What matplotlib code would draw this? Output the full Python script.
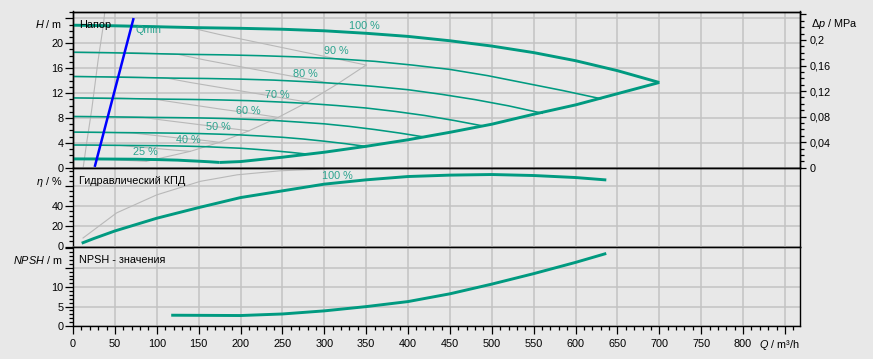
import matplotlib
matplotlib.use("Agg")
import matplotlib.pyplot as plt
from matplotlib.ticker import MultipleLocator

plt.rcParams['font.family'] = ['Liberation Sans', 'DejaVu Sans']
plt.rcParams['mathtext.fontset'] = 'custom'
plt.rcParams['mathtext.rm'] = 'Liberation Sans'
plt.rcParams['mathtext.it'] = 'Liberation Sans:italic'
plt.rcParams['mathtext.bf'] = 'Liberation Sans:bold'

# ---------------- data ----------------
# Head curves (Q in m3/h, H in m) for speed levels
q100 = [0, 50, 100, 150, 200, 250, 300, 350, 400, 450, 500, 550, 600, 650, 700]
h100 = [22.9, 22.8, 22.65, 22.5, 22.4, 22.25, 22.0, 21.6, 21.1, 20.4, 19.55, 18.5, 17.2, 15.6, 13.7]
q90 = [0, 45, 90, 135, 180, 225, 270, 315, 360, 405, 450, 495, 540, 585, 630]
h90 = [18.55, 18.47, 18.35, 18.22, 18.14, 18.0, 17.8, 17.5, 17.1, 16.5, 15.8, 14.8, 13.6, 12.4, 11.1]
q80 = [0, 40, 80, 120, 160, 200, 240, 280, 320, 360, 400, 440, 480, 520, 560]
h80 = [14.66, 14.59, 14.5, 14.4, 14.34, 14.24, 14.08, 13.82, 13.5, 13.06, 12.54, 11.8, 10.95, 9.95, 8.77]
q70 = [0, 35, 70, 105, 140, 175, 210, 245, 280, 315, 350, 385, 420, 455, 490]
h70 = [11.22, 11.17, 11.1, 11.03, 10.98, 10.9, 10.78, 10.58, 10.34, 10.0, 9.6, 9.05, 8.4, 7.6, 6.71]
q60 = [0, 30, 60, 90, 120, 150, 180, 210, 240, 270, 300, 330, 360, 390, 420]
h60 = [8.24, 8.21, 8.15, 8.1, 8.06, 8.01, 7.92, 7.78, 7.6, 7.34, 7.06, 6.65, 6.15, 5.58, 4.93]
q50 = [0, 25, 50, 75, 100, 125, 150, 175, 200, 225, 250, 275, 300, 325, 350]
h50 = [5.73, 5.7, 5.66, 5.63, 5.6, 5.56, 5.5, 5.4, 5.28, 5.1, 4.9, 4.62, 4.27, 3.88, 3.43]
q40 = [0, 20, 40, 60, 80, 100, 120, 140, 160, 180, 200, 220, 240, 260, 280]
h40 = [3.66, 3.65, 3.62, 3.6, 3.58, 3.56, 3.52, 3.46, 3.38, 3.26, 3.14, 2.95, 2.73, 2.48, 2.19]
q25 = [0, 25, 50, 75, 100, 125, 137.5, 150, 162.5, 175]
h25 = [1.43, 1.42, 1.4, 1.38, 1.32, 1.23, 1.14, 1.06, 0.97, 0.86]
# lower limit curve (thick)
q_env = [175, 200, 250, 300, 350, 400, 450, 500, 550, 600, 650, 700]
h_env = [0.86, 1.0, 1.7, 2.5, 3.45, 4.5, 5.7, 7.0, 8.6, 10.1, 11.9, 13.7]

# gray reference curves in head panel
gq100 = [0, 80, 140, 175, 250, 300, 350]
gh100 = [22.95, 22.85, 22.5, 21.4, 19.3, 17.9, 16.5]
gq90 = [0, 72, 126, 158, 225, 270, 315]
gh90 = [18.6, 18.5, 18.2, 17.3, 15.6, 14.5, 13.4]
gq80 = [0, 64, 112, 140, 200, 240, 280]
gh80 = [14.7, 14.6, 14.4, 13.7, 12.35, 11.45, 10.55]
gq70 = [0, 56, 98, 122.5, 175, 210, 245]
gh70 = [11.25, 11.2, 11.0, 10.5, 9.45, 8.8, 8.1]
gq60 = [0, 48, 84, 105, 150, 180, 210]
gh60 = [8.26, 8.2, 8.1, 7.7, 6.95, 6.45, 5.94]
gq50 = [0, 40, 70, 87.5, 125, 150, 175]
gh50 = [5.74, 5.7, 5.6, 5.35, 4.8, 4.5, 4.1]
gq40 = [0, 32, 56, 70, 100, 120, 140]
gh40 = [3.67, 3.65, 3.6, 3.42, 3.1, 2.85, 2.64]
gq25 = [0, 20, 35, 44, 62.5, 75, 87.5]
gh25 = [1.43, 1.43, 1.4, 1.34, 1.2, 1.12, 1.03]
gq_branch = [87.5, 140, 175, 210, 245, 280, 315, 350]
gh_branch = [1.03, 2.64, 4.1, 5.94, 8.1, 10.55, 13.4, 16.5]
gq_steep = [12.3, 16.3, 22.3, 30, 36.2, 38]
gh_steep = [0.17, 4.0, 9.3, 17.3, 22.9, 25.1]

# Qmin line
qmin_q = [26.3, 72]
qmin_h = [0.34, 23.85]

speed_labels = ['100 %', '90 %', '80 %', '70 %', '60 %', '50 %', '40 %', '25 %']
label_q = [348, 314, 278, 244, 209, 173.5, 137.7, 86.6]
label_h = [22.8, 18.8, 15.1, 11.75, 9.07, 6.5, 4.5, 2.54]

# efficiency
eta_q = [12, 25, 50, 100, 150, 200, 250, 300, 350, 400, 450, 500, 550, 600, 635]
eta_v = [3.8, 8.0, 15.5, 28.2, 38.8, 48.8, 55.5, 62.2, 66.5, 69.8, 71.2, 71.8, 70.8, 68.8, 66.5]
geta_q = [12, 52, 100, 152, 196, 247, 291, 330]
geta_v = [8.5, 33.5, 51.5, 65.0, 71.5, 75.5, 77.0, 79.0]

# NPSH
npsh_q = [119, 150, 200, 250, 300, 350, 400, 450, 500, 550, 600, 635]
npsh_v = [2.78, 2.75, 2.7, 3.1, 3.9, 5.0, 6.3, 8.3, 10.8, 13.5, 16.4, 18.6]

x_ticks = list(range(0, 801, 50))
h_ticklabels = ['0', '4', '8', '12', '16', '20', '']
eta_ticklabels = ['0', '20', '40', '']
npsh_ticklabels = ['0', '5', '10', '', '']
dp_ticklabels = ['0', '0,04', '0,08', '0,12', '0,16', '0,2', '']

# ---------------- style ----------------
BG = '#e8e8e8'
TEAL = '#009a80'
TEAL_TXT = '#2aa38e'
GRAY = '#b8b8b8'
GRID = '#c3c3c3'
FS = 7.8
MPA_PER_M = 0.2 / 20.53

W, Hh = 873, 359
fig = plt.figure(figsize=(W / 100, Hh / 100), dpi=100, facecolor=BG)
L = 73 / W
AW = 727 / W
y_top, y1, y2, y_bot = 11.5, 167.8, 246.5, 326.0
ax1 = fig.add_axes([L, 1 - y1 / Hh, AW, (y1 - y_top) / Hh])
ax2 = fig.add_axes([L, 1 - y2 / Hh, AW, (y2 - y1) / Hh], sharex=ax1)
ax3 = fig.add_axes([L, 1 - y_bot / Hh, AW, (y_bot - y2) / Hh], sharex=ax1)

XMAX = 868
for ax in (ax1, ax2, ax3):
    ax.set_facecolor(BG)
    ax.set_xlim(0, XMAX)
    for s in ax.spines.values():
        s.set_color('black')
        s.set_linewidth(1.0)
    ax.xaxis.set_major_locator(MultipleLocator(50))
    ax.xaxis.set_minor_locator(MultipleLocator(10))
    ax.grid(True, which='major', color=GRID, linewidth=1.1, zorder=0)
    ax.set_axisbelow(True)
    ax.tick_params(axis='y', which='major', direction='out', length=5.5, width=0.9,
                   labelsize=FS, pad=1.5, colors='black')
    ax.tick_params(axis='y', which='minor', direction='out', length=3.2, width=0.9)
    ax.tick_params(axis='x', which='both', bottom=False, labelbottom=False)

# bottom x axis
ax3.tick_params(axis='x', which='major', bottom=True, labelbottom=True, direction='out',
                length=5.5, width=0.9, labelsize=FS, pad=4)
ax3.tick_params(axis='x', which='minor', bottom=True, direction='out', length=3.2, width=0.9)
ax3.set_xticks(list(range(0, 851, 50)))
ax3.set_xticklabels([str(v) for v in x_ticks] + [''])

# --- top panel ---
ax1.set_ylim(0, 25.1)
ax1.set_yticks([0, 4, 8, 12, 16, 20, 24])
ax1.set_yticklabels(h_ticklabels)
ax1.yaxis.set_minor_locator(MultipleLocator(1))

for q, h in [(gq100, gh100), (gq90, gh90), (gq80, gh80), (gq70, gh70), (gq60, gh60),
             (gq50, gh50), (gq40, gh40), (gq25, gh25), (gq_branch, gh_branch),
             (gq_steep, gh_steep)]:
    ax1.plot(q, h, color=GRAY, lw=0.8, zorder=2, clip_on=True)

for q, h in [(q90, h90), (q80, h80), (q70, h70), (q60, h60), (q50, h50), (q40, h40)]:
    ax1.plot(q, h, color=TEAL, lw=1.15, zorder=3)
ax1.plot(q100, h100, color=TEAL, lw=2.1, zorder=4, solid_capstyle='butt')
ax1.plot(q25, h25, color=TEAL, lw=2.1, zorder=4, solid_capstyle='butt')
ax1.plot(q_env, h_env, color=TEAL, lw=2.1, zorder=4, solid_capstyle='butt')
ax1.plot(qmin_q, qmin_h, color='#0000ff', lw=1.8, zorder=5)

for t, q, h in zip(speed_labels, label_q, label_h):
    ax1.text(q, h, t, color=TEAL_TXT, fontsize=FS, ha='center', va='center', zorder=6)
ax1.text(89.8, 22.05, 'Qmin', color=TEAL_TXT, fontsize=FS, ha='center', va='center', zorder=6)
ax1.text(6.4 / 727, 1 - (24.5 - y_top) / (y1 - y_top), 'Напор', transform=ax1.transAxes,
         fontsize=FS, ha='left', va='center', color='black', zorder=6)

# right pressure axis
axr = ax1.twinx()
axr.set_ylim(0, 25.1 * MPA_PER_M)
axr.set_yticks([0, 0.04, 0.08, 0.12, 0.16, 0.2, 0.24])
axr.set_yticklabels(dp_ticklabels)
axr.yaxis.set_minor_locator(MultipleLocator(0.01))
axr.tick_params(axis='y', which='major', direction='out', length=4.5, width=0.9,
                labelsize=FS, pad=2.5)
axr.tick_params(axis='y', which='minor', direction='out', length=3.0, width=0.9)
for s in axr.spines.values():
    s.set_color('black')
    s.set_linewidth(1.0)

# unit labels
lab_x = -10.5 / 727
ax1.text(lab_x, 1 - (24.3 - y_top) / (y1 - y_top), r'$\it{H}$ / m', transform=ax1.transAxes,
         ha='right', va='center', fontsize=FS)
ax1.text(1 + 11 / 727, 1 - (24.3 - y_top) / (y1 - y_top), r'$\it{Δp}$ / MPa',
         transform=ax1.transAxes, ha='left', va='center', fontsize=FS)

# --- middle panel ---
ax2.set_ylim(0, 78.5)
ax2.set_yticks([0, 20, 40, 60])
ax2.set_yticklabels(eta_ticklabels)
ax2.yaxis.set_minor_locator(MultipleLocator(5))
ax2.plot(geta_q, geta_v, color=GRAY, lw=0.8, zorder=2)
ax2.plot(eta_q, eta_v, color=TEAL, lw=2.1, zorder=4)
ax2.text(315.4, 70.3, '100 %', color=TEAL_TXT, fontsize=FS, ha='center', va='center', zorder=6)
ax2.text(6.4 / 727, 1 - (180.7 - y1) / (y2 - y1), 'Гидравлический КПД', transform=ax2.transAxes,
         fontsize=FS, ha='left', va='center')
ax2.text(lab_x, 1 - (181.7 - y1) / (y2 - y1), r'$\it{η}$ / %', transform=ax2.transAxes,
         ha='right', va='center', fontsize=FS)

# --- bottom panel ---
ax3.set_ylim(0, 20.5)
ax3.set_yticks([0, 5, 10, 15, 20])
ax3.set_yticklabels(npsh_ticklabels)
ax3.yaxis.set_minor_locator(MultipleLocator(1))
ax3.plot(npsh_q, npsh_v, color=TEAL, lw=2.1, zorder=4)
ax3.text(6.4 / 727, 1 - (260 - y2) / (y_bot - y2), 'NPSH - значения', transform=ax3.transAxes,
         fontsize=FS, ha='left', va='center')
ax3.text(lab_x, 1 - (260 - y2) / (y_bot - y2), r'$\it{NPSH}$ / m', transform=ax3.transAxes,
         ha='right', va='center', fontsize=FS)
ax3.text(1.0, -(345 - y_bot) / (y_bot - y2), r'$\it{Q}$ / m³/h', transform=ax3.transAxes,
         ha='right', va='center', fontsize=FS)

fig.savefig('out.png', dpi=100, facecolor=BG)
